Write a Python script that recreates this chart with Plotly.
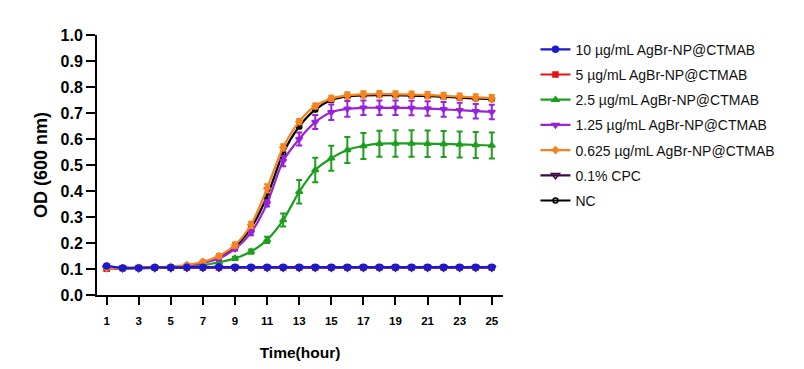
import plotly.graph_objects as go

hours = list(range(1, 26))

names = [
    "10 µg/mL AgBr-NP@CTMAB",
    "5 µg/mL AgBr-NP@CTMAB",
    "2.5 µg/mL AgBr-NP@CTMAB",
    "1.25 µg/mL AgBr-NP@CTMAB",
    "0.625 µg/mL AgBr-NP@CTMAB",
    "0.1% CPC",
    "NC",
]

od_10 = [0.112, 0.104, 0.104, 0.106, 0.106, 0.107, 0.107, 0.108, 0.107, 0.107, 0.107, 0.107, 0.107,
         0.107, 0.107, 0.107, 0.107, 0.107, 0.107, 0.107, 0.107, 0.107, 0.107, 0.107, 0.107]
od_5 = [0.101, 0.103, 0.104, 0.105, 0.105, 0.106, 0.106, 0.106, 0.106, 0.106, 0.106, 0.106, 0.106,
        0.106, 0.106, 0.106, 0.106, 0.106, 0.106, 0.106, 0.106, 0.106, 0.106, 0.106, 0.106]
od_2_5 = [0.105, 0.103, 0.104, 0.105, 0.107, 0.109, 0.115, 0.126, 0.141, 0.167, 0.212, 0.288, 0.397,
          0.481, 0.526, 0.558, 0.573, 0.582, 0.583, 0.583, 0.582, 0.581, 0.579, 0.577, 0.575]
od_1_25 = [0.105, 0.103, 0.104, 0.106, 0.108, 0.112, 0.123, 0.140, 0.178, 0.240, 0.352, 0.515, 0.600,
           0.665, 0.703, 0.716, 0.720, 0.720, 0.720, 0.719, 0.717, 0.714, 0.711, 0.707, 0.704]
od_0_625 = [0.104, 0.104, 0.105, 0.107, 0.109, 0.115, 0.128, 0.150, 0.192, 0.270, 0.410, 0.568, 0.667,
            0.727, 0.756, 0.768, 0.772, 0.773, 0.772, 0.771, 0.769, 0.766, 0.763, 0.760, 0.757]
od_cpc = [0.105, 0.103, 0.103, 0.104, 0.104, 0.105, 0.105, 0.105, 0.105, 0.105, 0.105, 0.105, 0.105,
          0.105, 0.105, 0.105, 0.105, 0.105, 0.105, 0.105, 0.105, 0.105, 0.105, 0.105, 0.105]
od_nc = [0.105, 0.104, 0.105, 0.106, 0.108, 0.113, 0.125, 0.146, 0.185, 0.258, 0.380, 0.545, 0.648,
         0.713, 0.750, 0.764, 0.768, 0.769, 0.768, 0.767, 0.765, 0.762, 0.759, 0.756, 0.753]

err_10 = [0.004] * 25
err_5 = [0.003] * 25
err_2_5 = [0.003, 0.003, 0.003, 0.003, 0.003, 0.003, 0.003, 0.004, 0.006, 0.008, 0.012, 0.025, 0.045,
           0.047, 0.048, 0.05, 0.05, 0.05, 0.051, 0.051, 0.051, 0.05, 0.05, 0.05, 0.05]
err_1_25 = [0.003, 0.003, 0.003, 0.003, 0.003, 0.004, 0.005, 0.006, 0.007, 0.01, 0.012, 0.02, 0.025,
            0.027, 0.03, 0.03, 0.028, 0.028, 0.028, 0.028, 0.028, 0.028, 0.028, 0.028, 0.028]
err_0_625 = [0.003, 0.003, 0.003, 0.003, 0.004, 0.005, 0.006, 0.008, 0.01, 0.012, 0.016, 0.012, 0.01,
             0.01, 0.01, 0.012, 0.012, 0.012, 0.012, 0.012, 0.012, 0.012, 0.012, 0.012, 0.012]
err_cpc = [0.003] * 25
err_nc = [0.003, 0.003, 0.003, 0.003, 0.003, 0.003, 0.004, 0.005, 0.006, 0.007, 0.008, 0.008, 0.007,
          0.006, 0.006, 0.006, 0.006, 0.006, 0.006, 0.006, 0.006, 0.006, 0.006, 0.006, 0.006]

x_ticks = [1, 3, 5, 7, 9, 11, 13, 15, 17, 19, 21, 23, 25]
y_ticks = [0.0, 0.1, 0.2, 0.3, 0.4, 0.5, 0.6, 0.7, 0.8, 0.9, 1.0]

series = [
    # (name index, y, err, color, symbol, marker size, legendrank)
    (6, od_nc, err_nc, "#000000", "circle-open", 5, 7),
    (5, od_cpc, err_cpc, "#3d0a45", "triangle-down-open", 7, 6),
    (1, od_5, err_5, "#e81010", "square", 5, 2),
    (2, od_2_5, err_2_5, "#1e9e1e", "triangle-up", 6, 3),
    (3, od_1_25, err_1_25, "#9a22d8", "triangle-down", 6, 4),
    (4, od_0_625, err_0_625, "#f7831f", "diamond", 5, 5),
    (0, od_10, err_10, "#1a1ad0", "circle", 6, 1),
]

fig = go.Figure()
for idx, y, err, color, symbol, msize, rank in series:
    fig.add_trace(go.Scatter(
        x=hours, y=y, name=names[idx], mode="lines+markers",
        line=dict(color=color, width=2.2, shape="spline", smoothing=0.8),
        marker=dict(color=color, symbol=symbol, size=msize,
                    line=dict(color=color, width=1.5)),
        error_y=dict(type="data", array=err, visible=True, color=color,
                     thickness=2, width=3),
        legendrank=rank, legendgroup=names[idx],
    ))

fig.update_layout(
    width=804, height=369,
    margin=dict(l=97, r=301, t=35, b=74, autoexpand=False),
    paper_bgcolor="white", plot_bgcolor="white",
    font=dict(family="Arial, Liberation Sans, sans-serif", color="black"),
    showlegend=True,
    legend=dict(
        x=1.08, y=1.005, xanchor="left", yanchor="top",
        font=dict(size=14, color="#111111"),
        tracegroupgap=4, itemwidth=30, maxheight=320,
        bgcolor="rgba(0,0,0,0)",
    ),
    xaxis=dict(
        range=[0.4, 25.7], tickmode="array", tickvals=x_ticks,
        ticktext=["<b>%d</b>" % v for v in x_ticks],
        showline=True, linecolor="black", linewidth=2,
        ticks="outside", ticklen=8, tickwidth=2, tickcolor="black",
        showgrid=False, zeroline=False,
        tickfont=dict(size=11.5),
        ticklabelstandoff=6,
        title=dict(text="<b>Time(hour)</b>", font=dict(size=15.5), standoff=21),
    ),
    yaxis=dict(
        range=[0, 1.0], tickmode="array", tickvals=y_ticks,
        ticktext=["<b>%.1f</b>" % v for v in y_ticks],
        showline=True, linecolor="black", linewidth=2,
        ticks="outside", ticklen=9, tickwidth=2, tickcolor="black",
        showgrid=False, zeroline=False,
        tickfont=dict(size=16),
        title=dict(text="<b>OD (600 nm)</b>", font=dict(size=18), standoff=8),
    ),
)

fig.write_html(
    "out.html",
    config={"displayModeBar": False},
    post_script="document.body.style.margin='0';document.body.style.overflow='hidden';",
)
